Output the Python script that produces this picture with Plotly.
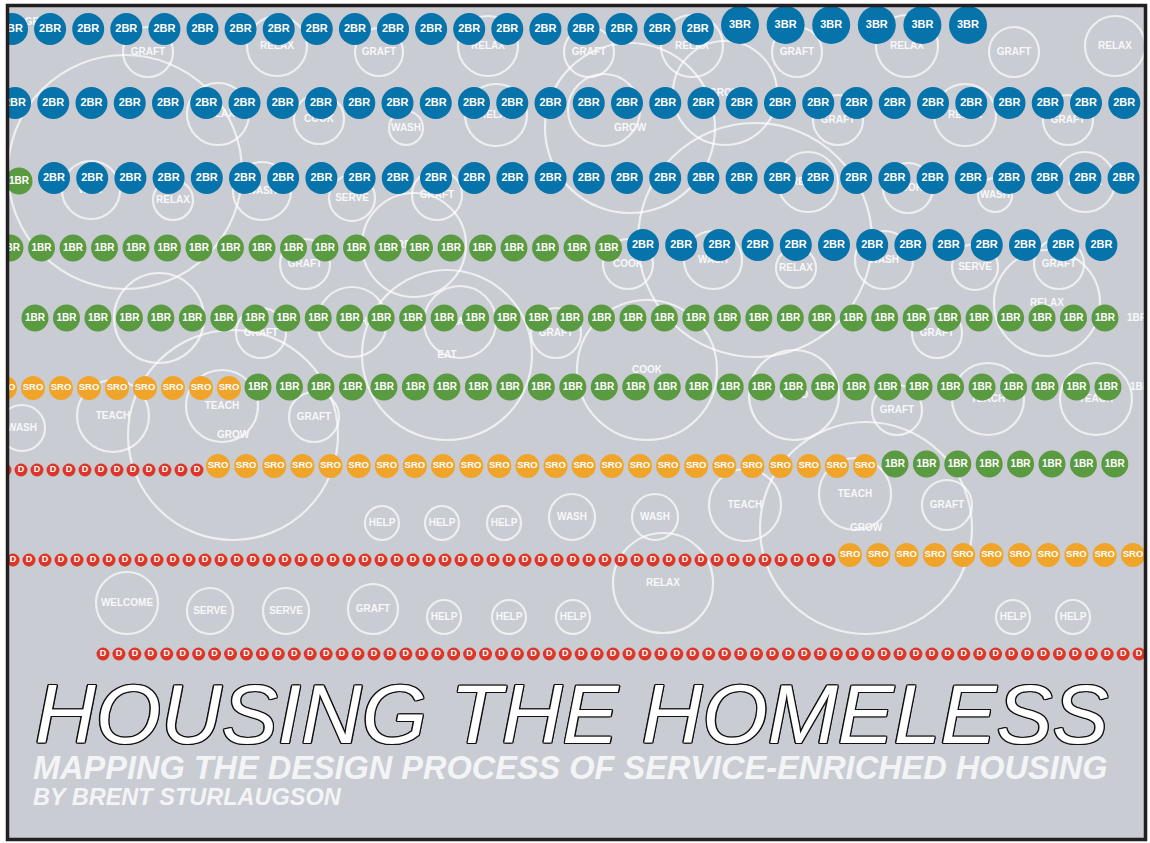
import plotly.graph_objects as go

W, H = 1150, 843

# ---------------- data ----------------
# Housing units along each row: (unit type, count), left to right
units_row1 = [("2BR", 19), ("3BR", 6)]
units_row2 = [("2BR", 30)]
units_row3 = [("1BR", 1), ("2BR", 29)]
units_row4 = [("1BR", 20), ("2BR", 13)]
units_row5 = [("1BR", 35)]
units_row6 = [("SRO", 9), ("1BR", 28)]
units_row7 = [("D", 13), ("SRO", 24), ("1BR", 8)]
units_row8 = [("D", 52), ("SRO", 11)]
units_row9 = [("D", 66)]
unit_rows = [units_row1, units_row2, units_row3, units_row4, units_row5,
             units_row6, units_row7, units_row8, units_row9]

# Activity (service) bubbles
activity_labels = [
    "GRAFT", "RELAX", "GRAFT", "RELAX", "GRAFT", "RELAX", "GRAFT", "RELAX", "GRAFT", "RELAX",
    "", "", "GROW", "GROW", "",
    "RELAX", "COOK", "WASH", "RELAX", "GRAFT", "RELAX", "GRAFT",
    "WAIT", "RELAX", "WASH", "SERVE", "GRAFT", "RELAX", "COOK", "WASH", "RELAX", "RELAX",
    "GRAFT", "COOK", "WASH", "RELAX", "WASH", "SERVE", "GRAFT", "RELAX",
    "", "GRAFT", "WASH", "EAT", "EAT", "GRAFT", "COOK", "GRAFT",
    "READ", "GRAFT", "TEACH", "TEACH", "TEACH", "TEACH", "GROW", "WASH", "GRAFT",
    "HELP", "HELP", "HELP", "WASH", "WASH", "TEACH", "TEACH", "GROW", "GRAFT", "RELAX",
    "WELCOME", "SERVE", "SERVE", "GRAFT", "HELP", "HELP", "HELP", "HELP", "HELP",
]

# ---------------- layout (positions in chart units) ----------------
# per segment: (first x, pitch, y)
row_layout = [
    [(12, 38.1, 29), (740, 45.6, 25)],
    [(15, 38.25, 103)],
    [(19, 0, 181), (54, 38.2, 178)],
    [(10, 31.5, 248), (643, 38.2, 245)],
    [(35, 31.47, 318)],
    [(5, 28.0, 388), (258, 31.48, 387)],
    [(5, 16.0, 470), (218, 28.13, 466), (895, 31.4, 464)],
    [(13, 16.0, 560), (850, 28.3, 555)],
    [(103, 15.94, 654)],
]

activity_x = [
    148, 277, 379, 488, 589, 692, 797, 907, 1014, 1115,
    125, 604, 630, 725, 755,
    218, 319, 406, 496, 838, 965, 1068,
    91, 173, 262, 352, 437, 808, 908, 995, 1085, 414,
    305, 628, 713, 796, 884, 975, 1059, 1047,
    159, 261, 352, 447, 460, 556, 647, 937,
    794, 897, 988, 1096, 113, 222, 233, 22, 314,
    382, 442, 504, 572, 655, 745, 855, 866, 947, 663,
    127, 210, 286, 373, 444, 509, 573, 1013, 1073,
]
activity_y = [
    52, 46, 52, 46, 52, 46, 52, 46, 52, 46,
    172, 110, 128, 93, 240,
    114, 119, 128, 115, 120, 115, 120,
    190, 200, 191, 198, 195, 182, 188, 195, 182, 245,
    264, 264, 260, 268, 260, 267, 264, 303,
    318, 333, 322, 355, 322, 333, 370, 333,
    395, 410, 399, 399, 416, 406, 435, 428, 417,
    523, 523, 523, 517, 517, 505, 494, 528, 505, 583,
    603, 611, 611, 609, 617, 617, 617, 617, 617,
]
activity_r = [
    25, 30, 24, 30, 25, 31, 25, 31, 25, 30,
    117, 36, 85, 52, 117,
    31, 25, 17, 31, 25, 31, 25,
    29, 20, 29, 23, 25, 30, 25, 17, 30, 52,
    25, 25, 29, 20, 29, 23, 25, 53,
    45, 25, 35, 85, 36, 25, 70, 25,
    45, 25, 36, 36, 36, 36, 105, 23, 25,
    17, 17, 17, 23, 23, 36, 36, 106, 25, 50,
    31, 23, 23, 25, 17, 17, 17, 17, 17,
]

ghost_labels = ["GRAFT", "1BR", "1BR"]
ghost_x = [42, 1137, 1140]
ghost_y = [22, 318, 387]

# ---------------- styles ----------------
BG = "#c9ccd3"
UNIT_COLOR = {"3BR": "#0673aa", "2BR": "#0673aa", "1BR": "#5a9a41", "SRO": "#f0a52a", "D": "#dc3629"}
UNIT_SIZE = {"3BR": 38, "2BR": 32, "1BR": 27, "SRO": 24, "D": 13}
UNIT_FONT = {"3BR": 11, "2BR": 11, "1BR": 10, "SRO": 9.5, "D": 9}
FONT = "Liberation Sans, Arial, sans-serif"

fig = go.Figure()

# activity bubbles (drawn beneath units)
fig.add_trace(go.Scatter(
    x=activity_x, y=activity_y, mode="markers+text",
    text=activity_labels, textposition="middle center",
    textfont=dict(family=FONT, size=10, color="#f7f8fa", weight="bold"),
    marker=dict(size=[2 * r for r in activity_r], color="rgba(0,0,0,0)",
                line=dict(color="white", width=2.2)),
    hoverinfo="skip", showlegend=False, cliponaxis=False,
))
fig.add_trace(go.Scatter(
    x=ghost_x, y=ghost_y, mode="text", text=ghost_labels,
    textfont=dict(family=FONT, size=10, color="#f7f8fa", weight="bold"),
    hoverinfo="skip", showlegend=False, cliponaxis=False,
))

# housing units
pts = {k: ([], []) for k in UNIT_COLOR}
for row, lay in zip(unit_rows, row_layout):
    for (utype, count), (x0, pitch, y) in zip(row, lay):
        for i in range(count):
            pts[utype][0].append(x0 + i * pitch)
            pts[utype][1].append(y)

for utype in ["D", "SRO", "1BR", "2BR", "3BR"]:
    xs, ys = pts[utype]
    fig.add_trace(go.Scatter(
        x=xs, y=ys, mode="markers+text", text=[utype] * len(xs),
        textposition="middle center",
        textfont=dict(family=FONT, size=UNIT_FONT[utype], color="white", weight="bold"),
        marker=dict(size=UNIT_SIZE[utype], color=UNIT_COLOR[utype], line=dict(width=0)),
        hoverinfo="skip", showlegend=False, cliponaxis=False,
    ))

shapes = [
    dict(type="rect", xref="x", yref="y", x0=7, y0=5, x1=1146, y1=840,
         fillcolor=BG, line=dict(width=0), layer="below"),
    # white surroundings outside the frame
    dict(type="rect", xref="x", yref="y", x0=-10, y0=-10, x1=6, y1=H + 10,
         fillcolor="white", line=dict(width=0), layer="above"),
    dict(type="rect", xref="x", yref="y", x0=-10, y0=-10, x1=W + 10, y1=4,
         fillcolor="white", line=dict(width=0), layer="above"),
    dict(type="rect", xref="x", yref="y", x0=1147, y0=-10, x1=W + 10, y1=H + 10,
         fillcolor="white", line=dict(width=0), layer="above"),
    dict(type="rect", xref="x", yref="y", x0=-10, y0=841, x1=W + 10, y1=H + 10,
         fillcolor="white", line=dict(width=0), layer="above"),
    dict(type="rect", xref="x", yref="y", x0=7.5, y0=5.5, x1=1145.5, y1=839.5,
         fillcolor="rgba(0,0,0,0)", line=dict(color="#231f20", width=3.5), layer="above"),
]

outline = ", ".join(f"{dx}px {dy}px 0 #111" for dx, dy in
                    [(1.4, 0), (-1.4, 0), (0, 1.4), (0, -1.4), (1, 1), (-1, -1), (1, -1), (-1, 1)])

annotations = [
    dict(text="HOUSING THE HOMELESS", x=33, y=714, xref="x", yref="y",
         xanchor="left", yanchor="middle", showarrow=False,
         font=dict(family=FONT, size=84, color="white", style="italic", shadow=outline)),
    dict(text="MAPPING THE DESIGN PROCESS OF SERVICE-ENRICHED HOUSING", x=31, y=768,
         xref="x", yref="y", xanchor="left", yanchor="middle", showarrow=False,
         font=dict(family=FONT, size=32.5, color="#f3f4f6", style="italic", weight="bold")),
    dict(text="BY BRENT STURLAUGSON", x=31, y=797, xref="x", yref="y",
         xanchor="left", yanchor="middle", showarrow=False,
         font=dict(family=FONT, size=23.5, color="#f3f4f6", style="italic", weight="bold")),
]

fig.update_layout(
    width=W, height=H, margin=dict(l=0, r=0, t=0, b=0),
    paper_bgcolor="white", plot_bgcolor="white",
    xaxis=dict(range=[0, W], visible=False, fixedrange=True),
    yaxis=dict(range=[H, 0], visible=False, fixedrange=True),
    shapes=shapes, annotations=annotations, showlegend=False,
)

fig.write_html("out.html", config={"displayModeBar": False},
               post_script="document.body.style.margin='0';document.body.style.overflow='hidden';")
